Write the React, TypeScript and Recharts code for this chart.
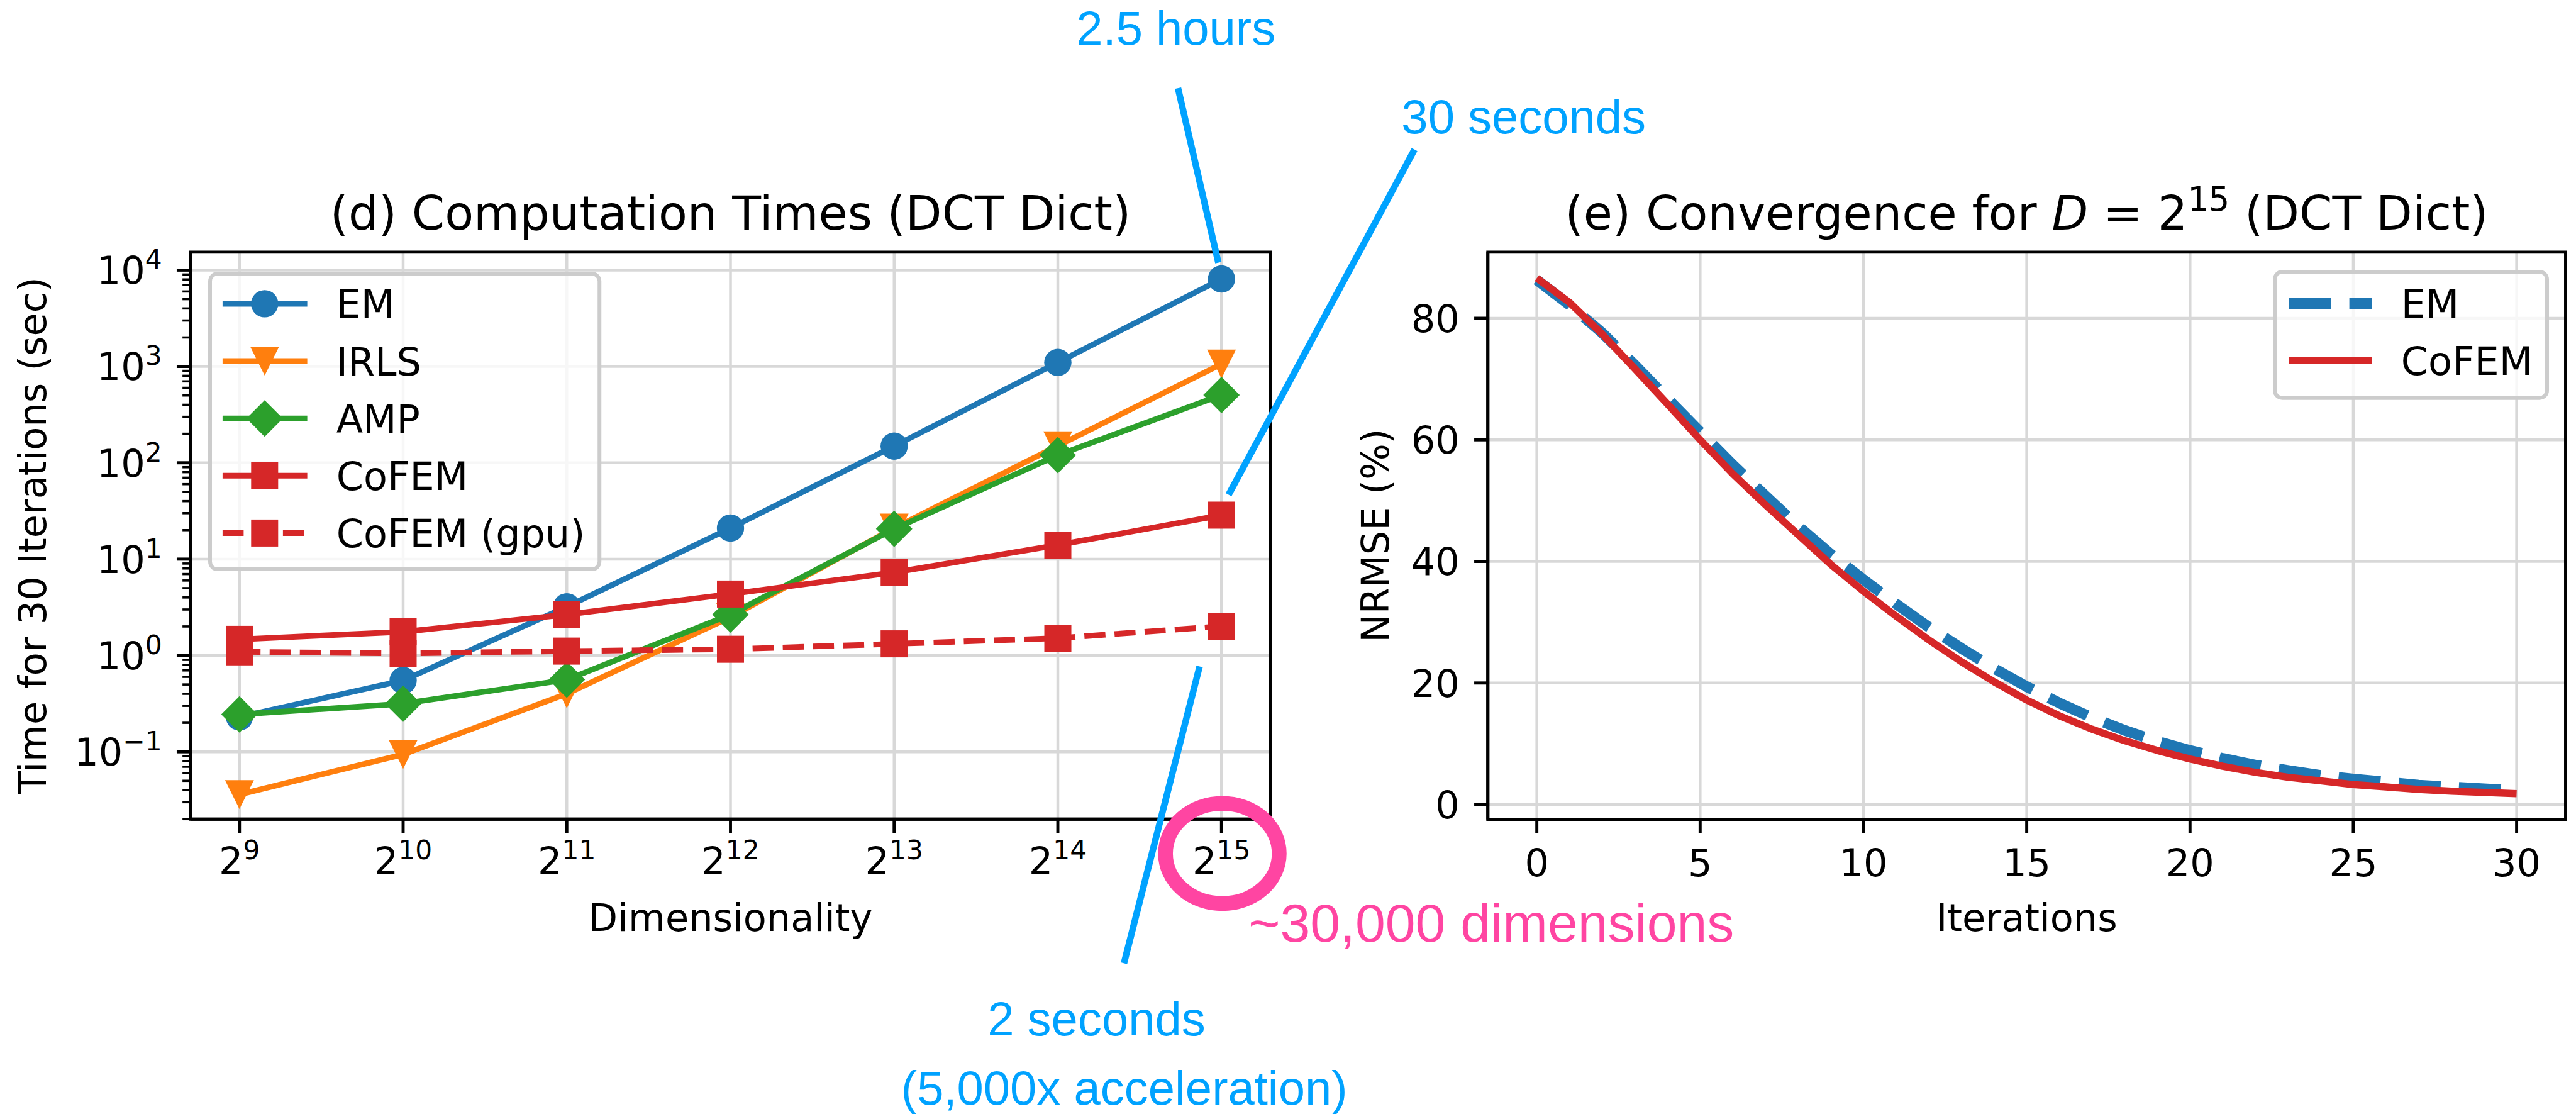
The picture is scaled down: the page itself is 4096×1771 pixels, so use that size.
import { LineChart, Line, XAxis, YAxis, CartesianGrid, Legend, ReferenceArea } from "recharts";

// ---- values ----
const dims = [512, 1024, 2048, 4096, 8192, 16384, 32768];
const emTime = [0.23, 0.55, 3.2, 21, 149, 1100, 8100];
const irlsTime = [0.036, 0.094, 0.4, 2.5, 21, 150, 1060];
const ampTime = [0.244, 0.316, 0.56, 2.66, 20.6, 120, 505];
const cofemTime = [1.47, 1.76, 2.66, 4.34, 7.28, 14, 28.6];
const cofemGpuTime = [1.09, 1.05, 1.11, 1.16, 1.32, 1.51, 2.01];

const iters = [0, 1, 2, 3, 4, 5, 6, 7, 8, 9, 10, 11, 12, 13, 14, 15, 16, 17, 18, 19, 20, 21, 22, 23, 24, 25, 26, 27, 28, 29, 30];
const emNrmse = [86.3, 82.2, 77.6, 72.3, 66.8, 61.3, 55.9, 50.8, 45.8, 41.2, 37.0, 33.0, 29.2, 25.7, 22.4, 19.4, 16.7, 14.3, 12.2, 10.4, 8.9, 7.6, 6.5, 5.6, 4.8, 4.2, 3.7, 3.2, 2.9, 2.6, 2.3];
const cofemNrmse = [86.6, 82.6, 77.4, 71.7, 65.9, 60.0, 54.4, 49.3, 44.4, 39.5, 35.1, 31.0, 27.1, 23.5, 20.2, 17.2, 14.6, 12.4, 10.5, 8.9, 7.5, 6.3, 5.3, 4.5, 3.9, 3.3, 2.9, 2.5, 2.2, 2.0, 1.8];

const timeMajorTicks = [0.1, 1, 10, 100, 1000, 10000];
const timeMinorTicks = [
  0.02, 0.03, 0.04, 0.05, 0.06, 0.07, 0.08, 0.09,
  0.2, 0.3, 0.4, 0.5, 0.6, 0.7, 0.8, 0.9,
  2, 3, 4, 5, 6, 7, 8, 9,
  20, 30, 40, 50, 60, 70, 80, 90,
  200, 300, 400, 500, 600, 700, 800, 900,
  2000, 3000, 4000, 5000, 6000, 7000, 8000, 9000,
];
const iterTicks = [0, 5, 10, 15, 20, 25, 30];
const nrmseTicks = [0, 20, 40, 60, 80];

const timeSeries = [
  { key: "em", name: "EM", color: "#1f77b4", shape: "circle", dash: undefined, values: emTime },
  { key: "irls", name: "IRLS", color: "#ff7f0e", shape: "tri", dash: undefined, values: irlsTime },
  { key: "amp", name: "AMP", color: "#2ca02c", shape: "diamond", dash: undefined, values: ampTime },
  { key: "cofem", name: "CoFEM", color: "#d62728", shape: "square", dash: undefined, values: cofemTime },
  { key: "gpu", name: "CoFEM (gpu)", color: "#d62728", shape: "square", dash: "33.5 14.5", values: cofemGpuTime },
];

const convSeries = [
  { key: "em", name: "EM", color: "#1f77b4", width: 17, dash: "67 29", values: emNrmse },
  { key: "cofem", name: "CoFEM", color: "#d62728", width: 11.5, dash: undefined, values: cofemNrmse },
];

const timeRows = dims.map((d, i) => {
  const row: Record<string, number> = { dim: d };
  timeSeries.forEach((s) => (row[s.key] = s.values[i]));
  return row;
});
const convRows = iters.map((it, i) => {
  const row: Record<string, number> = { iter: it };
  convSeries.forEach((s) => (row[s.key] = s.values[i]));
  return row;
});

// ---- layout (reference px * 0.904) ----
const px = (v: number) => v * 0.904;
const FONT = "'DejaVu Sans', sans-serif";
const ANNOT_FONT = "'Liberation Sans', Arial, Helvetica, sans-serif";
const FS = 60.5;
const TITLE_FS = 75;
const GRID = "#d8d8d8";
const SPINE = 4.9;
const TICK_MAJOR = 21.7;
const TICK_MINOR = 12.5;

const X_DOM: [number, number] = [Math.pow(2, 8.7), Math.pow(2, 15.3)];
const Y_DOM: [number, number] = [0.01998, 15350];
const IT_DOM: [number, number] = [-1.5, 31.5];
const NR_DOM: [number, number] = [-2.44, 90.87];

const LEFT = { x0: px(334.8), x1: px(2234.9), y0: px(443.5), y1: px(1440.6) };
const RIGHT = { x0: px(2617), x1: px(4512.7), y0: px(443.5), y1: px(1441) };
const RIGHT_OFF = 2150;

function Marker({ cx, cy, shape, color }: any) {
  if (cx == null || cy == null) return null;
  if (shape === "circle") return <circle cx={cx} cy={cy} r={21.7} fill={color} />;
  if (shape === "tri") {
    const h = 23;
    return <polygon points={`${cx - h},${cy - h} ${cx + h},${cy - h} ${cx},${cy + h}`} fill={color} />;
  }
  if (shape === "diamond") {
    const d = 29;
    return <polygon points={`${cx},${cy - d} ${cx + d},${cy} ${cx},${cy + d} ${cx - d},${cy}`} fill={color} />;
  }
  return <rect x={cx - 21.5} y={cy - 21.5} width={43} height={43} fill={color} />;
}

const dotFor = (shape: string, color: string, key: string) => (p: any) => (
  <Marker key={`${key}-${p.index}`} cx={p.cx} cy={p.cy} shape={shape} color={color} />
);

function Sup({ base, sup, x, y, anchor }: any) {
  return (
    <text x={x} y={y} textAnchor={anchor} fontSize={FS} fontFamily={FONT} fill="#000">
      {base}
      <tspan dy={-24} fontSize={FS * 0.7}>{sup}</tspan>
    </text>
  );
}

function LogYTick(props: any) {
  const { x, y, payload } = props;
  const v = payload.value;
  const major = timeMajorTicks.includes(v);
  const exp = Math.round(Math.log10(v));
  return (
    <g>
      <line x1={x} x2={x - (major ? TICK_MAJOR : TICK_MINOR)} y1={y} y2={y} stroke="#000" strokeWidth={major ? SPINE : 3.6} />
      {major && <Sup base="10" sup={exp < 0 ? `\u2212${-exp}` : `${exp}`} x={x - 45} y={y + 21.8} anchor="end" />}
    </g>
  );
}

function Pow2XTick(props: any) {
  const { x, y, payload } = props;
  const exp = Math.round(Math.log2(payload.value));
  return (
    <g>
      <line x1={x} x2={x} y1={y} y2={y + TICK_MAJOR} stroke="#000" strokeWidth={SPINE} />
      <Sup base="2" sup={`${exp}`} x={x} y={y + 87.7} anchor="middle" />
    </g>
  );
}

function NumYTick(props: any) {
  const { x, y, payload } = props;
  return (
    <g>
      <line x1={x} x2={x - TICK_MAJOR} y1={y} y2={y} stroke="#000" strokeWidth={SPINE} />
      <text x={x - 45} y={y + 21.8} textAnchor="end" fontSize={FS} fontFamily={FONT} fill="#000">
        {payload.value}
      </text>
    </g>
  );
}

function NumXTick(props: any) {
  const { x, y, payload } = props;
  return (
    <g>
      <line x1={x} x2={x} y1={y} y2={y + TICK_MAJOR} stroke="#000" strokeWidth={SPINE} />
      <text x={x} y={y + 90.4} textAnchor="middle" fontSize={FS} fontFamily={FONT} fill="#000">
        {payload.value}
      </text>
    </g>
  );
}

function TimeLegend() {
  const w = px(1054 - 369);
  const h = px(1001 - 481);
  return (
    <svg width={w} height={h} style={{ display: "block", overflow: "visible" }}>
      <rect x={0} y={0} width={w} height={h} rx={12} fill="rgba(255,255,255,0.8)" stroke="#cccccc" strokeWidth={6} />
      {timeSeries.map((s, i) => {
        const y = px(534 - 481) + i * px(100.8);
        return (
          <g key={s.key}>
            <line x1={px(391 - 369)} x2={px(540 - 369)} y1={y} y2={y} stroke={s.color} strokeWidth={9} strokeDasharray={s.dash} />
            <Marker cx={px(465 - 369)} cy={y} shape={s.shape} color={s.color} />
            <text x={px(591 - 369)} y={y + 22.5} fontSize={62} fontFamily={FONT} fill="#000">{s.name}</text>
          </g>
        );
      })}
    </svg>
  );
}

function ConvLegend() {
  const w = px(4480 - 4001);
  const h = px(700 - 478);
  return (
    <svg width={w} height={h} style={{ display: "block", overflow: "visible" }}>
      <rect x={0} y={0} width={w} height={h} rx={12} fill="rgba(255,255,255,0.8)" stroke="#cccccc" strokeWidth={6} />
      {convSeries.map((s, i) => {
        const y = px(534 - 478) + i * px(100);
        return (
          <g key={s.key}>
            <line x1={px(4026 - 4001)} x2={px(4172 - 4001)} y1={y} y2={y} stroke={s.color} strokeWidth={s.width} strokeDasharray={s.dash} />
            <text x={px(4223 - 4001)} y={y + 22.5} fontSize={62} fontFamily={FONT} fill="#000">{s.name}</text>
          </g>
        );
      })}
    </svg>
  );
}

function TimesChart() {
  const W = 2100;
  const H = 1771;
  const xh = 120;
  return (
    <LineChart
      width={W}
      height={H}
      data={timeRows}
      margin={{ top: LEFT.y0, right: W - LEFT.x1, left: 0, bottom: H - LEFT.y1 - xh }}
    >
      <CartesianGrid horizontalValues={timeMajorTicks} verticalValues={dims} stroke={GRID} strokeWidth={4.5} />
      <XAxis
        dataKey="dim"
        type="number"
        scale="log"
        domain={X_DOM}
        allowDataOverflow
        ticks={dims}
        interval={0}
        height={xh}
        tickSize={0}
        tickMargin={0}
        tickLine={false}
        axisLine={{ stroke: "#000", strokeWidth: SPINE }}
        tick={<Pow2XTick />}
      />
      <YAxis
        type="number"
        scale="log"
        domain={Y_DOM}
        allowDataOverflow
        ticks={[...timeMinorTicks, ...timeMajorTicks]}
        interval={0}
        width={LEFT.x0}
        tickSize={0}
        tickMargin={0}
        tickLine={false}
        axisLine={{ stroke: "#000", strokeWidth: SPINE }}
        tick={<LogYTick />}
      />
      {timeSeries.map((s) => (
        <Line
          key={s.key}
          type="linear"
          dataKey={s.key}
          name={s.name}
          stroke={s.color}
          strokeWidth={9}
          strokeDasharray={s.dash}
          strokeLinejoin="round"
          dot={dotFor(s.shape, s.color, s.key)}
          activeDot={false}
          isAnimationActive={false}
        />
      ))}
      <ReferenceArea x1={X_DOM[0]} x2={X_DOM[1]} y1={Y_DOM[0]} y2={Y_DOM[1]} ifOverflow="visible" fill="none" stroke="#000" strokeWidth={SPINE} />
      <Legend
        layout="vertical"
        align="center"
        verticalAlign="middle"
        content={() => <TimeLegend />}
        wrapperStyle={{ left: px(369), top: px(481), width: px(1054 - 369), height: px(1001 - 481) }}
      />
    </LineChart>
  );
}

function ConvChart() {
  const W = 4096 - RIGHT_OFF;
  const H = 1771;
  const xh = 120;
  return (
    <LineChart
      width={W}
      height={H}
      data={convRows}
      margin={{ top: RIGHT.y0, right: W - (RIGHT.x1 - RIGHT_OFF), left: 0, bottom: H - RIGHT.y1 - xh }}
    >
      <CartesianGrid horizontalValues={nrmseTicks} verticalValues={iterTicks} stroke={GRID} strokeWidth={4.5} />
      <XAxis
        dataKey="iter"
        type="number"
        domain={IT_DOM}
        allowDataOverflow
        ticks={iterTicks}
        interval={0}
        height={xh}
        tickSize={0}
        tickMargin={0}
        tickLine={false}
        axisLine={{ stroke: "#000", strokeWidth: SPINE }}
        tick={<NumXTick />}
      />
      <YAxis
        type="number"
        domain={NR_DOM}
        allowDataOverflow
        ticks={nrmseTicks}
        interval={0}
        width={RIGHT.x0 - RIGHT_OFF}
        tickSize={0}
        tickMargin={0}
        tickLine={false}
        axisLine={{ stroke: "#000", strokeWidth: SPINE }}
        tick={<NumYTick />}
      />
      {convSeries.map((s) => (
        <Line
          key={s.key}
          type="linear"
          dataKey={s.key}
          name={s.name}
          stroke={s.color}
          strokeWidth={s.width}
          strokeDasharray={s.dash}
          strokeLinejoin="round"
          dot={false}
          activeDot={false}
          isAnimationActive={false}
        />
      ))}
      <ReferenceArea x1={IT_DOM[0]} x2={IT_DOM[1]} y1={NR_DOM[0]} y2={NR_DOM[1]} ifOverflow="visible" fill="none" stroke="#000" strokeWidth={SPINE} />
      <Legend
        layout="vertical"
        align="center"
        verticalAlign="middle"
        content={() => <ConvLegend />}
        wrapperStyle={{ left: px(4001) - RIGHT_OFF, top: px(478), width: px(4480 - 4001), height: px(700 - 478) }}
      />
    </LineChart>
  );
}

function Overlay() {
  const lcx = (LEFT.x0 + LEFT.x1) / 2;
  const rcx = (RIGHT.x0 + RIGHT.x1) / 2;
  const cy = (LEFT.y0 + LEFT.y1) / 2;
  const blue = "#00a2ff";
  const pink = "#ff45a2";
  const aFs = 76;
  return (
    <svg width={4096} height={1771} style={{ position: "absolute", left: 0, top: 0, pointerEvents: "none", whiteSpace: "pre" }}>
      {/* titles */}
      <text x={lcx} y={px(404)} textAnchor="middle" fontSize={TITLE_FS} fontFamily={FONT} fill="#000">
        (d) Computation Times (DCT Dict)
      </text>
      <text x={rcx} y={px(404)} textAnchor="middle" fontSize={TITLE_FS} fontFamily={FONT} fill="#000">
        {"(e) Convergence for "}
        <tspan fontStyle="italic">D</tspan>
        {" = 2"}
        <tspan dy={-30} fontSize={TITLE_FS * 0.7}>15</tspan>
        <tspan dy={30}>{" (DCT Dict)"}</tspan>
      </text>
      {/* axis labels */}
      <text x={lcx} y={px(1636.7)} textAnchor="middle" fontSize={FS} fontFamily={FONT} fill="#000">Dimensionality</text>
      <text x={rcx} y={px(1636.7)} textAnchor="middle" fontSize={FS} fontFamily={FONT} fill="#000">Iterations</text>
      <text transform={`translate(${px(81)},${cy}) rotate(-90)`} textAnchor="middle" fontSize={FS} fontFamily={FONT} fill="#000">
        Time for 30 Iterations (sec)
      </text>
      <text transform={`translate(${px(2442)},${cy}) rotate(-90)`} textAnchor="middle" fontSize={FS} fontFamily={FONT} fill="#000">
        NRMSE (%)
      </text>
      {/* annotations */}
      <line x1={px(2072)} y1={px(155)} x2={px(2143)} y2={px(462)} stroke={blue} strokeWidth={10.4} />
      <line x1={px(2488)} y1={px(263)} x2={px(2161)} y2={px(870)} stroke={blue} strokeWidth={10.4} />
      <line x1={px(2110)} y1={px(1172)} x2={px(1977)} y2={px(1694)} stroke={blue} strokeWidth={10.4} />
      <ellipse cx={px(2150)} cy={px(1501)} rx={px(100)} ry={px(88)} fill="none" stroke={pink} strokeWidth={px(26)} />
      <text x={px(1893)} y={px(79)} fontSize={aFs} fontFamily={ANNOT_FONT} fill={blue}>2.5 hours</text>
      <text x={px(2465)} y={px(235)} fontSize={aFs} fontFamily={ANNOT_FONT} fill={blue}>30 seconds</text>
      <text x={px(1737)} y={px(1820.7)} fontSize={aFs} fontFamily={ANNOT_FONT} fill={blue}>2 seconds</text>
      <text x={px(1585)} y={px(1942.7)} fontSize={aFs} fontFamily={ANNOT_FONT} fill={blue}>(5,000x acceleration)</text>
      <text x={px(2196)} y={px(1656.5)} fontSize={86} fontFamily={ANNOT_FONT} fill={pink}>~30,000 dimensions</text>
    </svg>
  );
}

export default function App() {
  return (
    <div style={{ position: "absolute", left: 0, top: 0, width: 4096, height: 1771, background: "#fff", overflow: "hidden", fontFamily: FONT }}>
      <div style={{ position: "absolute", left: 0, top: 0 }}>
        <TimesChart />
      </div>
      <div style={{ position: "absolute", left: RIGHT_OFF, top: 0 }}>
        <ConvChart />
      </div>
      <Overlay />
    </div>
  );
}
